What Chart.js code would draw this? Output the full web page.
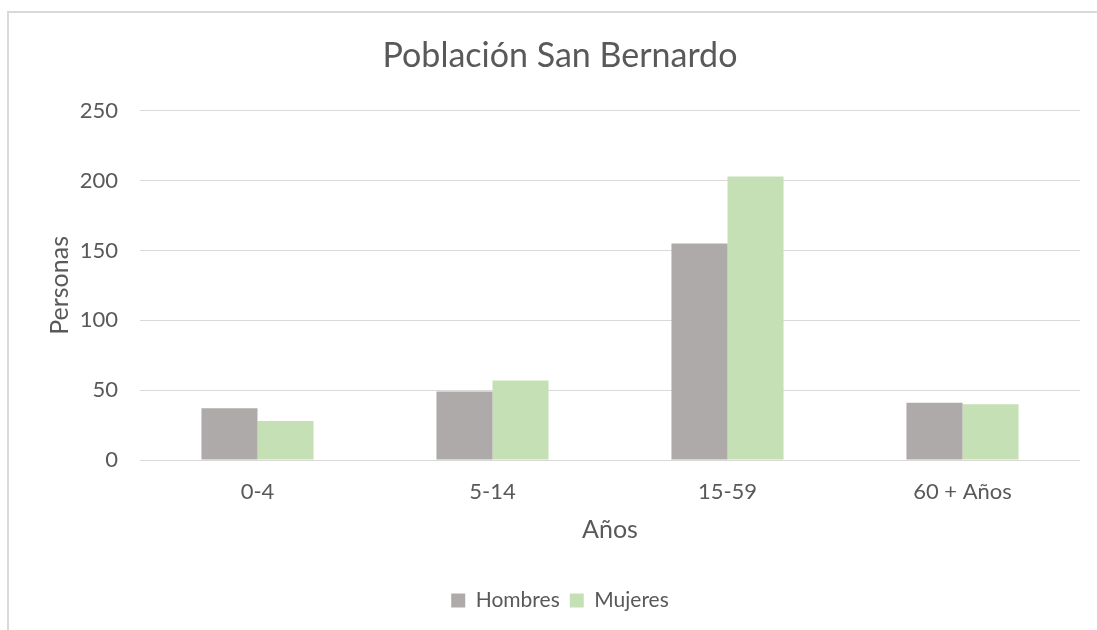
<!DOCTYPE html>
<html>
<head>
<meta charset="utf-8">
<script src="https://cdn.jsdelivr.net/npm/chart.js@4/dist/chart.umd.min.js"></script>
<style>
  html, body { margin: 0; padding: 0; background: #ffffff; overflow: hidden; }
  #frame { position: absolute; left: 7px; top: 11px; width: 1200px; height: 700px;
           border-left: 2px solid #d9d9d9; border-top: 2px solid #d9d9d9; box-sizing: border-box; }
  #wrap { position: absolute; left: 0; top: 0; width: 1097px; height: 630px; }
</style>
</head>
<body>
<div id="frame"></div>
<div id="wrap"><canvas id="c" width="1097" height="630"></canvas></div>
<script>
const categories = ['0-4', '5-14', '15-59', '60 + Años'];
const hombres = [37, 49, 155, 41];
const mujeres = [28, 57, 203, 40];
const yTicks = [0, 50, 100, 150, 200, 250];

const textColor = '#595959';
const fontFamily = 'Lato, "Open Sans", sans-serif';

new Chart(document.getElementById('c'), {
  type: 'bar',
  data: {
    labels: categories,
    datasets: [
      { label: 'Hombres', data: hombres, backgroundColor: '#aeaaaa', borderWidth: 0,
        categoryPercentage: 0.477, barPercentage: 1.0 },
      { label: 'Mujeres', data: mujeres, backgroundColor: '#c5e0b4', borderWidth: 0,
        categoryPercentage: 0.477, barPercentage: 1.0 }
    ]
  },
  options: {
    responsive: false,
    animation: false,
    devicePixelRatio: 1,
    layout: { padding: { left: 40, right: 17, top: 0, bottom: 9 } },
    plugins: {
      title: {
        display: true,
        text: 'Población San Bernardo',
        color: textColor,
        font: { family: fontFamily, size: 34, weight: 'normal' },
        padding: { top: 36, bottom: 34 }
      },
      legend: {
        position: 'bottom',
        labels: {
          color: textColor,
          font: { family: fontFamily, size: 21 },
          boxWidth: 14, boxHeight: 14,
          padding: 10
        }
      },
      tooltip: { enabled: false }
    },
    scales: {
      x: {
        grid: { display: false, drawTicks: false },
        border: { display: false },
        ticks: { color: textColor, font: { family: fontFamily, size: 22 }, padding: 19 },
        title: { display: true, text: 'Años', color: textColor,
                 font: { family: fontFamily, size: 25 }, padding: { top: 4, bottom: 35 } },
        afterFit: (s) => { s.height = 120; }
      },
      y: {
        min: 0, max: 250,
        afterBuildTicks: (s) => { s.ticks = yTicks.map(v => ({ value: v })); },
        grid: { color: '#d9d9d9', lineWidth: 1, drawTicks: false },
        border: { display: false },
        ticks: { color: textColor, font: { family: fontFamily, size: 22 }, padding: 22 },
        title: { display: true, text: 'Personas', color: textColor,
                 font: { family: fontFamily, size: 25 }, padding: { top: 5, bottom: 4 } },
        afterFit: (s) => { s.width = 100; }
      }
    }
  }
});
</script>
</body>
</html>
